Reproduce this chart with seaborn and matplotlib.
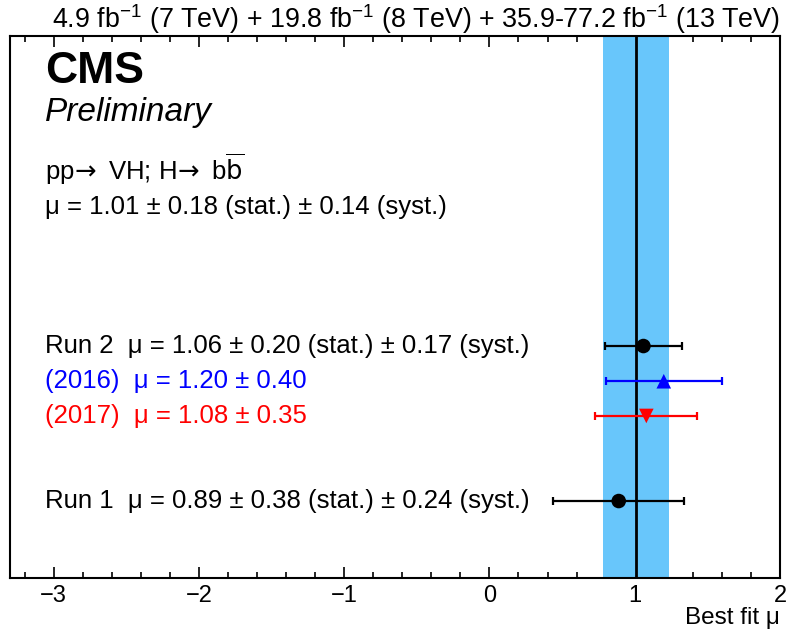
import numpy as np
import pandas as pd
import matplotlib
matplotlib.use("Agg")
import matplotlib.pyplot as plt
from matplotlib.ticker import MultipleLocator
import seaborn as sns

# ---- measurements ----
combined_mu = 1.01
combined_stat = 0.18
combined_syst = 0.14

labels = ["Run 2", "(2016)", "(2017)", "Run 1"]
mu_values = [1.06, 1.20, 1.08, 0.89]
stat_errors = [0.20, None, None, 0.38]
syst_errors = [0.17, None, None, 0.24]
total_errors = [None, 0.40, 0.35, None]

title_text = (r"4.9 fb$^{-1}$ (7 TeV) + 19.8 fb$^{-1}$ (8 TeV) + "
              r"35.9-77.2 fb$^{-1}$ (13 TeV)")

# ---- styling ----
sns.set_theme(style="white")
plt.rcParams["font.family"] = ["Liberation Sans", "DejaVu Sans"]
plt.rcParams["mathtext.fontset"] = "custom"
plt.rcParams["mathtext.rm"] = "Liberation Sans"
plt.rcParams["mathtext.it"] = "Liberation Sans:italic"
plt.rcParams["mathtext.bf"] = "Liberation Sans:bold"
plt.rcParams["text.color"] = "black"
plt.rcParams["axes.labelcolor"] = "black"
plt.rcParams["xtick.color"] = "black"
plt.rcParams["ytick.color"] = "black"

row_colors = ["black", "#0000ff", "#ff0000", "black"]
row_markers = ["o", "^", "v", "o"]
row_y = [0.428, 0.363, 0.299, 0.142]
band_color = "#68c6fb"


def total_error(i):
    if total_errors[i] is not None:
        return total_errors[i]
    return float(np.hypot(stat_errors[i], syst_errors[i]))


def row_text(i):
    if total_errors[i] is not None:
        return f"{labels[i]}  \u03bc = {mu_values[i]:.2f} \u00b1 {total_errors[i]:.2f}"
    return (f"{labels[i]}  \u03bc = {mu_values[i]:.2f} \u00b1 {stat_errors[i]:.2f} (stat.)"
            f" \u00b1 {syst_errors[i]:.2f} (syst.)")


df = pd.DataFrame({
    "label": labels,
    "mu": mu_values,
    "err": [total_error(i) for i in range(len(labels))],
    "row": row_y,
})

fig = plt.figure(figsize=(7.98, 6.34), dpi=100)
ax = fig.add_axes([10 / 798, (634 - 578) / 634, 770 / 798, 542 / 634])

# combined result band and central line
comb_err = float(np.hypot(combined_stat, combined_syst))
ax.axvspan(combined_mu - comb_err, combined_mu + comb_err, color=band_color, lw=0, zorder=1)
ax.axvline(combined_mu, color="black", lw=2, zorder=2)

# horizontal error bars with small end caps
for i, r in df.iterrows():
    ax.errorbar(r["mu"], r["row"], xerr=r["err"], fmt="none", ecolor=row_colors[i],
                elinewidth=1.6, capsize=3, capthick=1.6, zorder=3)

sns.scatterplot(data=df, x="mu", y="row", hue="label", style="label",
                palette=dict(zip(labels, row_colors)),
                markers=dict(zip(labels, row_markers)),
                s=110, edgecolor="none", legend=False, ax=ax, zorder=4)

# row labels
for i in range(len(labels)):
    ax.text(0.045, row_y[i], row_text(i), transform=ax.transAxes, color=row_colors[i],
            fontsize=18.5, va="center", ha="left")

# header block
ax.text(0.045, 0.913, "CMS", transform=ax.transAxes, fontsize=32, fontweight="bold",
        va="baseline", ha="left")
ax.text(0.045, 0.843, "Preliminary", transform=ax.transAxes, fontsize=24, style="italic",
        va="baseline", ha="left")
ax.text(0.045, 0.735, r"pp$\!\rightarrow$ VH; H$\!\rightarrow$ b$\overline{\mathrm{b}}$",
        transform=ax.transAxes, fontsize=18.5, va="baseline", ha="left",
        math_fontfamily="dejavusans")
ax.text(0.045, 0.672,
        f"\u03bc = {combined_mu:.2f} \u00b1 {combined_stat:.2f} (stat.) \u00b1 {combined_syst:.2f} (syst.)",
        transform=ax.transAxes, fontsize=18.5, va="baseline", ha="left")

ax.set_title(title_text, loc="right", fontsize=19.4, pad=5)

# axes
ax.set_xlim(-3.3, 2.0)
ax.set_ylim(0, 1)
ax.set_ylabel("")
ax.set_xlabel("Best fit \u03bc", fontsize=17.5, loc="right", labelpad=0)
ax.set_xticks([-3, -2, -1, 0, 1, 2])
ax.xaxis.set_minor_locator(MultipleLocator(0.2))
ax.set_yticks([])
ax.tick_params(axis="x", which="major", direction="in", length=8, width=1.2,
               top=True, bottom=True, labelsize=17, pad=5, color="black")
ax.tick_params(axis="x", which="minor", direction="in", length=4.5, width=1.2,
               top=True, bottom=True, color="black")
for sp in ax.spines.values():
    sp.set_visible(True)
    sp.set_color("black")
    sp.set_linewidth(1.5)

fig.savefig("out.png", dpi=100, facecolor="white")
